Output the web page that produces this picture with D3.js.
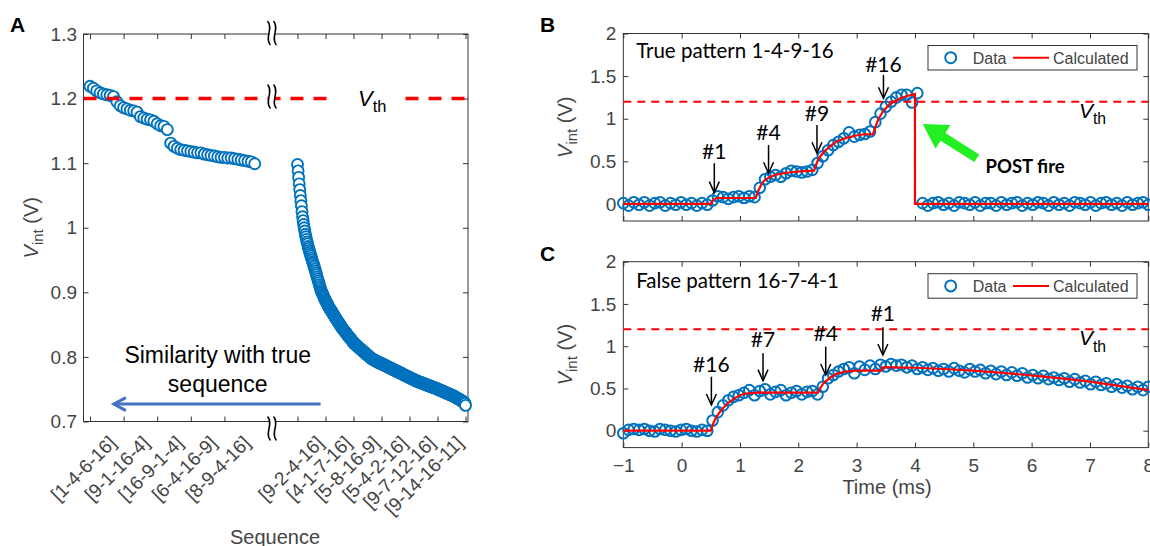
<!DOCTYPE html>
<html>
<head>
<meta charset="utf-8">
<script src="https://cdn.jsdelivr.net/npm/d3@7/dist/d3.min.js"></script>
<style>
  body { margin: 0; background: #fff; }
  svg { display: block; }
</style>
</head>
<body>
<svg id="chart" width="1150" height="546"></svg>
<script>
// ---------- data: panel A (V_int for each tested sequence) ----------
var seqLabelsLeft = ["[1-4-6-16]", "[9-1-16-4]", "[16-9-1-4]", "[6-4-16-9]", "[8-9-4-16]"]
var seqTicksLeft = [0, 10, 20, 30, 40]
var seqLabelsRight = ["[9-2-4-16]", "[4-1-7-16]", "[5-8-16-9]", "[5-4-2-16]", "[9-7-12-16]", "[9-14-16-11]", ""]
var seqTicksRight = [0, 50, 100, 150, 200, 250, 300]
var yTicksA = [0.7, 0.8, 0.9, 1, 1.1, 1.2, 1.3]

var vintLeft = [
  1.219, 1.216, 1.212, 1.209, 1.207, 1.206, 1.205, 1.203, 1.195, 1.189,
  1.186, 1.184, 1.182, 1.181, 1.179, 1.172, 1.170, 1.168, 1.167, 1.165,
  1.161, 1.158, 1.157, 1.152, 1.131, 1.126, 1.123, 1.121, 1.120, 1.119,
  1.118, 1.117, 1.116, 1.116, 1.114, 1.113, 1.112, 1.111, 1.110, 1.109,
  1.109, 1.108, 1.108, 1.107, 1.106, 1.105, 1.104, 1.103, 1.102, 1.099]

// right part of the broken axis, in mV
var vintRightMv = [
  1098, 1088, 1078, 1068, 1059, 1050, 1042, 1034, 1025, 1017,
  1011, 1005, 1000, 995, 990, 986, 982, 978, 975, 971,
  968, 965, 962, 959, 956, 953, 950, 947, 945, 942,
  939, 936, 933, 930, 927, 924, 921, 918, 915, 912,
  909, 906, 903, 901, 899, 897, 895, 893, 891, 889,
  887, 886, 884, 882, 881, 879, 877, 876, 874, 873,
  872, 870, 869, 867, 866, 865, 863, 862, 860, 859,
  858, 856, 855, 854, 852, 851, 850, 848, 847, 846,
  844, 843, 842, 841, 840, 839, 838, 837, 835, 834,
  833, 832, 831, 830, 829, 828, 827, 826, 824, 823,
  822, 821, 820, 820, 819, 818, 817, 817, 816, 815,
  814, 813, 813, 812, 811, 810, 810, 809, 808, 807,
  807, 806, 805, 804, 804, 803, 802, 801, 801, 800,
  799, 798, 798, 797, 797, 796, 796, 795, 795, 794,
  794, 793, 793, 792, 792, 792, 791, 791, 790, 790,
  790, 789, 789, 788, 788, 787, 787, 787, 786, 786,
  785, 785, 784, 784, 784, 783, 783, 782, 782, 781,
  781, 781, 780, 780, 779, 779, 778, 778, 778, 777,
  777, 776, 776, 775, 775, 775, 774, 774, 773, 773,
  772, 772, 772, 771, 771, 770, 770, 769, 769, 769,
  768, 768, 767, 767, 766, 766, 766, 765, 765, 764,
  764, 763, 763, 763, 762, 762, 762, 761, 761, 761,
  760, 760, 760, 759, 759, 759, 758, 758, 758, 757,
  757, 757, 756, 756, 756, 755, 755, 755, 754, 754,
  754, 753, 753, 753, 752, 752, 752, 751, 751, 751,
  750, 750, 750, 749, 749, 748, 748, 748, 747, 747,
  747, 746, 746, 745, 745, 745, 744, 744, 744, 743,
  743, 742, 742, 742, 741, 741, 740, 740, 740, 739,
  739, 738, 738, 737, 737, 736, 736, 735, 735, 734,
  734, 733, 733, 732, 732, 731, 731, 730, 729, 728,
  725]

var vth = 1.2

// ---------- data: panels B and C (time traces) ----------
var tStart = -1, tStep = 0.09     // sampling of the measured trace (ms)
var timeTicks = [-1, 0, 1, 2, 3, 4, 5, 6, 7, 8]
var yTicksBC = [0, 0.5, 1, 1.5, 2]

var vTrue = [
  0.01, -0.02, 0.02, -0.01, 0.02, -0.02, 0.01, 0.02, -0.02, 0.01,
  -0.01, 0.02, -0.01, 0.01, -0.02, 0.01, -0.01, 0.04, 0.09, 0.08,
  0.06, 0.08, 0.09, 0.07, 0.09, 0.08, 0.19, 0.29, 0.32, 0.34,
  0.32, 0.36, 0.39, 0.38, 0.37, 0.38, 0.40, 0.48, 0.56, 0.63,
  0.69, 0.73, 0.77, 0.84, 0.79, 0.81, 0.82, 0.85, 0.96, 1.06,
  1.14, 1.20, 1.25, 1.28, 1.28, 1.19, 1.30,
  0.01, -0.02, 0.01, 0.02, -0.01, 0.01, -0.02, 0.02, 0.01, -0.01,
  0.02, -0.02, 0.01, 0.01, -0.02, 0.02, -0.01, 0.01, 0.02, -0.02,
  0.01, -0.01, 0.02, 0.01, -0.02, 0.02, -0.01, 0.01, -0.02, 0.02,
  0.01, -0.01, 0.02, -0.02, 0.01, 0.02, -0.01, 0.01, -0.02, 0.02,
  -0.01, 0.01, 0.02, -0.01]

var vFalse = [
  -0.03, 0.01, 0.02, 0.01, 0.02, 0.00, -0.01, 0.02, 0.01, 0.00,
  -0.01, 0.01, 0.02, 0.00, -0.01, 0.01, 0.00,
  0.12, 0.22, 0.30, 0.36, 0.40, 0.42, 0.45, 0.48, 0.42, 0.47, 0.49,
  0.43, 0.46, 0.48, 0.42, 0.45, 0.47, 0.43, 0.46, 0.47, 0.43,
  0.52, 0.62, 0.66, 0.70, 0.73, 0.75, 0.68, 0.76, 0.72, 0.77,
  0.73, 0.78, 0.76, 0.79, 0.77, 0.78, 0.75, 0.77, 0.73, 0.75,
  0.72, 0.74, 0.71, 0.73, 0.70, 0.74, 0.71, 0.69, 0.73, 0.70,
  0.72, 0.68, 0.71, 0.67, 0.70, 0.66, 0.69, 0.65, 0.68, 0.63,
  0.66, 0.62, 0.65, 0.61, 0.63, 0.60, 0.62, 0.58, 0.61, 0.57,
  0.59, 0.55, 0.58, 0.54, 0.56, 0.52, 0.55, 0.51, 0.53, 0.49,
  0.52, 0.48, 0.52]

var calcTrueT = [-1, 0.5, 0.55, 0.6, 1.27, 1.31, 1.36, 1.41, 1.5, 1.6, 1.75, 1.9, 2.1, 2.27, 2.3, 2.34, 2.38, 2.45,
  2.55, 2.65, 2.8, 2.97, 3.1, 3.28, 3.32, 3.37, 3.42, 3.47, 3.55, 3.64, 3.75, 3.88, 4.0, 4.0, 8]
var calcTrueV = [0, 0, 0.05, 0.07, 0.07, 0.15, 0.22, 0.27, 0.31, 0.34, 0.36, 0.375, 0.385, 0.39, 0.45, 0.52, 0.56, 0.62,
  0.68, 0.73, 0.77, 0.8, 0.815, 0.82, 0.9, 0.99, 1.05, 1.1, 1.16, 1.2, 1.24, 1.27, 1.29, 0, 0]

var calcFalseT = [-1, 0.5, 0.55, 0.6, 0.7, 0.8, 0.9, 1.0, 1.1, 1.3, 2.34, 2.38, 2.43, 2.48, 2.55, 2.65, 2.8, 3.0,
  3.42, 3.44, 3.6, 4.0, 4.5, 5.0, 5.5, 6.0, 6.5, 7.0, 7.5, 8.0]
var calcFalseV = [0, 0, 0.1, 0.17, 0.26, 0.33, 0.38, 0.42, 0.44, 0.45, 0.45, 0.51, 0.56, 0.59, 0.63, 0.67, 0.70, 0.71,
  0.71, 0.75, 0.75, 0.745, 0.73, 0.71, 0.685, 0.655, 0.62, 0.58, 0.53, 0.48]

// input pulse arrows: time, arrow top, arrow tip, label baseline (V)
var pulsesTrue = [
  {label: "#1", t: 0.56, top: 0.478, tip: 0.133, text: 0.524},
  {label: "#4", t: 1.49, top: 0.692, tip: 0.360, text: 0.751},
  {label: "#9", t: 2.32, top: 0.927, tip: 0.595, text: 0.977},
  {label: "#16", t: 3.46, top: 1.514, tip: 1.240, text: 1.552}]
var pulsesFalse = [
  {label: "#16", t: 0.51, top: 0.639, tip: 0.304, text: 0.698},
  {label: "#7", t: 1.395, top: 0.916, tip: 0.592, text: 0.987},
  {label: "#4", t: 2.47, top: 0.994, tip: 0.659, text: 1.062},
  {label: "#1", t: 3.45, top: 1.224, tip: 0.896, text: 1.302}]

// ---------- styles ----------
var sans = "'Liberation Sans', Arial, Helvetica, sans-serif"
var calibri = "Lato, 'Open Sans', sans-serif"
var axisColor = "#333333"
var tickColor = "#444444"
var blue = "#0072bd"
var red = "#ff0000"
var tickFont = 19

var svg = d3.select("#chart")

function styleAxis(g, size) {
  g.select(".domain").remove()
  g.selectAll(".tick line").attr("stroke", axisColor)
  g.selectAll(".tick text")
    .attr("fill", tickColor)
    .style("font-family", sans)
    .style("font-size", size + "px")
}

function drawBreak(g, cx, cy) {
  g.append("rect")
    .attr("x", cx - 3).attr("y", cy - 9)
    .attr("width", 6).attr("height", 18)
    .attr("fill", "#fff")
  ;[-3, 3].forEach(function(dx) {
    var x0 = cx + dx
    g.append("path")
      .attr("d", `M${x0 - 1.5},${cy - 12} C${x0 + 5},${cy - 5} ${x0 - 5},${cy + 5} ${x0 + 1.5},${cy + 12}`)
      .attr("fill", "none")
      .attr("stroke", "#000")
      .attr("stroke-width", 1.5)
  })
}

function yLabel(g, x, y) {
  var t = g.append("text")
    .attr("transform", `translate(${x},${y}) rotate(-90)`)
    .attr("text-anchor", "middle")
    .attr("fill", tickColor)
    .style("font-family", sans)
    .style("font-size", "20px")
  t.append("tspan").style("font-style", "italic").text("V")
  t.append("tspan").attr("dy", 5).style("font-size", "15px").text("int")
  t.append("tspan").attr("dy", -5).text(" (V)")
}

function vthLabel(g, x, y, size) {
  var t = g.append("text")
    .attr("x", x).attr("y", y)
    .attr("fill", "#000")
    .style("font-family", sans)
    .style("font-size", size + "px")
  t.append("tspan").style("font-style", "italic").text("V")
  t.append("tspan").attr("dy", size * 0.3).style("font-size", (size * 0.75) + "px").text("th")
  return t
}

function panelLetter(x, y, s) {
  svg.append("text")
    .attr("x", x).attr("y", y)
    .style("font-family", sans)
    .style("font-size", "21px")
    .style("font-weight", "bold")
    .text(s)
}

// ---------- panel A ----------
var A = {left: 83.5, right: 468, top: 34, bottom: 421.5}
var breakX = 272
var yA = d3.scaleLinear().domain([0.7, 1.3]).range([A.bottom, A.top])
var xAL = d3.scaleLinear().domain([0, vintLeft.length - 1]).range([90, 254.7])
var xAR = d3.scaleLinear().domain([0, vintRightMv.length - 1]).range([297.5, 465.5])

var gA = svg.append("g")

gA.append("rect")
  .attr("x", A.left).attr("y", A.top)
  .attr("width", A.right - A.left).attr("height", A.bottom - A.top)
  .attr("fill", "none").attr("stroke", axisColor)

gA.append("g").attr("transform", `translate(${A.left},0)`)
  .call(d3.axisLeft(yA).tickValues(yTicksA).tickSize(-5).tickPadding(6.5).tickFormat(String))
  .call(styleAxis, tickFont)
gA.append("g").attr("transform", `translate(${A.right},0)`)
  .call(d3.axisRight(yA).tickValues(yTicksA).tickSize(-5).tickFormat(""))
  .call(styleAxis, tickFont)

function rotateSeqLabels(g) {
  var off = 0.506 * tickFont
  g.selectAll(".tick text")
    .attr("y", null).attr("dy", null)
    .attr("text-anchor", "end")
    .attr("transform", `translate(${17 + off},${13 + off}) rotate(-45)`)
}

;[[xAL, seqTicksLeft, seqLabelsLeft], [xAR, seqTicksRight, seqLabelsRight]].forEach(function(s) {
  gA.append("g").attr("transform", `translate(0,${A.bottom})`)
    .call(d3.axisBottom(s[0]).tickValues(s[1]).tickSize(-5).tickFormat(function(d, i) { return s[2][i] }))
    .call(styleAxis, tickFont)
    .call(rotateSeqLabels)
  gA.append("g").attr("transform", `translate(0,${A.top})`)
    .call(d3.axisTop(s[0]).tickValues(s[1]).tickSize(-5).tickFormat(""))
    .call(styleAxis, tickFont)
})

gA.append("g").selectAll("circle")
  .data(vintLeft)
  .join("circle")
  .attr("cx", function(d, i) { return xAL(i) })
  .attr("cy", function(d) { return yA(d) })
  .attr("r", 5.5)
  .attr("fill", "#fff")
  .attr("stroke", blue)
  .attr("stroke-width", 1.9)

gA.append("g").selectAll("circle")
  .data(vintRightMv)
  .join("circle")
  .attr("cx", function(d, i) { return xAR(i) })
  .attr("cy", function(d) { return yA(d / 1000) })
  .attr("r", 5.5)
  .attr("fill", "#fff")
  .attr("stroke", blue)
  .attr("stroke-width", 1.9)

gA.append("line")
  .attr("x1", A.left).attr("x2", A.right)
  .attr("y1", yA(vth)).attr("y2", yA(vth))
  .attr("stroke", red).attr("stroke-width", 3.5)
  .attr("stroke-dasharray", "13,10")

var vthA = vthLabel(gA, 358, yA(vth) + 7, 22)
var bb = vthA.node().getBBox()
gA.insert("rect", function() { return vthA.node() })
  .attr("x", bb.x - 26).attr("y", bb.y)
  .attr("width", bb.width + 43).attr("height", bb.height)
  .attr("fill", "#fff")

drawBreak(gA, breakX, A.top - 1)
drawBreak(gA, breakX, yA(vth) - 2)
drawBreak(gA, breakX, A.bottom + 7)

// similarity arrow (from right to left), in left-segment index units
var simArrow = {from: 68.6, to: 6.8, v: 0.727}
var ay = yA(simArrow.v), ax0 = xAL(simArrow.from), ax1 = xAL(simArrow.to)
gA.append("line")
  .attr("x1", ax0).attr("x2", ax1 + 2).attr("y1", ay).attr("y2", ay)
  .attr("stroke", "#4472c4").attr("stroke-width", 3)
gA.append("path")
  .attr("d", `M${ax1 + 13},${ay - 6.5} L${ax1 + 1},${ay} L${ax1 + 13},${ay + 6.5}`)
  .attr("fill", "none").attr("stroke", "#4472c4").attr("stroke-width", 3)

var simText = gA.append("text")
  .attr("text-anchor", "middle")
  .style("font-family", sans).style("font-size", "23px")
simText.append("tspan").attr("x", xAL(38)).attr("y", yA(0.790)).text("Similarity with true")
simText.append("tspan").attr("x", xAL(38)).attr("y", yA(0.745)).text("sequence")

yLabel(gA, 38, (A.top + A.bottom) / 2)
gA.append("text")
  .attr("x", 275).attr("y", 544)
  .attr("text-anchor", "middle")
  .attr("fill", tickColor)
  .style("font-family", sans).style("font-size", "20px")
  .text("Sequence")

panelLetter(10, 32, "A")

// ---------- panels B and C ----------
var xT = d3.scaleLinear().domain([-1, 8]).range([623.3, 1148.3])

function drawTimePanel(p) {
  var g = svg.append("g")
  var y = d3.scaleLinear().domain([-0.2, 2]).range([p.bottom, p.top])
  var left = xT.range()[0], right = xT.range()[1]

  g.append("rect")
    .attr("x", left).attr("y", p.top)
    .attr("width", right - left).attr("height", p.bottom - p.top)
    .attr("fill", "none").attr("stroke", axisColor)

  g.append("g").attr("transform", `translate(${left},0)`)
    .call(d3.axisLeft(y).tickValues(yTicksBC).tickSize(-5).tickPadding(7).tickFormat(String))
    .call(styleAxis, tickFont)
  g.append("g").attr("transform", `translate(${right},0)`)
    .call(d3.axisRight(y).tickValues(yTicksBC).tickSize(-5).tickFormat(""))
    .call(styleAxis, tickFont)
  g.append("g").attr("transform", `translate(0,${p.top})`)
    .call(d3.axisTop(xT).tickValues(timeTicks).tickSize(-5).tickFormat(""))
    .call(styleAxis, tickFont)
  g.append("g").attr("transform", `translate(0,${p.bottom})`)
    .call(d3.axisBottom(xT).tickValues(timeTicks).tickSize(-5).tickPadding(11)
      .tickFormat(p.showTime ? function(d) { return d < 0 ? "\u2212" + (-d) : String(d) } : ""))
    .call(styleAxis, tickFont)

  g.append("g").selectAll("circle")
    .data(p.values)
    .join("circle")
    .attr("cx", function(d, i) { return xT(tStart + i * tStep) })
    .attr("cy", function(d) { return y(d) })
    .attr("r", 5.3)
    .attr("fill", "none")
    .attr("stroke", blue)
    .attr("stroke-width", 2)

  g.append("line")
    .attr("x1", left).attr("x2", right)
    .attr("y1", y(vth)).attr("y2", y(vth))
    .attr("stroke", red).attr("stroke-width", 2)
    .attr("stroke-dasharray", "8,6")

  var line = d3.line()
    .x(function(d) { return xT(d[0]) })
    .y(function(d) { return y(d[1]) })
  g.append("path")
    .datum(d3.zip(p.calcT, p.calcV))
    .attr("d", line)
    .attr("fill", "none")
    .attr("stroke", red)
    .attr("stroke-width", 2.2)

  // pulse arrows
  p.pulses.forEach(function(a) {
    var px = xT(a.t)
    g.append("line")
      .attr("x1", px).attr("x2", px)
      .attr("y1", y(a.top)).attr("y2", y(a.tip))
      .attr("stroke", "#000").attr("stroke-width", 1.5)
    g.append("path")
      .attr("d", `M${px - 5},${y(a.tip) - 11} L${px},${y(a.tip)} L${px + 5},${y(a.tip) - 11}`)
      .attr("fill", "none").attr("stroke", "#000").attr("stroke-width", 1.5)
    g.append("text")
      .attr("x", px).attr("y", y(a.text))
      .attr("text-anchor", "middle")
      .style("font-family", calibri).style("font-size", "21px")
      .text(a.label)
  })

  g.append("text")
    .attr("x", xT(-0.78)).attr("y", y(p.titleV))
    .style("font-family", calibri).style("font-size", "20.5px")
    .text(p.title)

  vthLabel(g, xT(6.81), y(1.01), 21)

  // legend
  var lx = 928, ly = p.top + 12
  g.append("rect")
    .attr("x", lx).attr("y", ly).attr("width", 209).attr("height", 24.5)
    .attr("fill", "#fff").attr("stroke", axisColor)
  g.append("circle")
    .attr("cx", lx + 22.7).attr("cy", ly + 12.2).attr("r", 5.5)
    .attr("fill", "none").attr("stroke", blue).attr("stroke-width", 2)
  g.append("line")
    .attr("x1", lx + 85).attr("x2", lx + 121)
    .attr("y1", ly + 12.2).attr("y2", ly + 12.2)
    .attr("stroke", red).attr("stroke-width", 2)
  g.append("text").attr("x", lx + 44.7).attr("y", ly + 18)
    .attr("fill", tickColor).style("font-family", sans).style("font-size", "16px").text("Data")
  g.append("text").attr("x", lx + 125).attr("y", ly + 18)
    .attr("fill", tickColor).style("font-family", sans).style("font-size", "16px").text("Calculated")

  yLabel(g, 572, (p.top + p.bottom) / 2)
  return {g: g, y: y}
}

var panelB = drawTimePanel({
  top: 33.5, bottom: 221, values: vTrue, calcT: calcTrueT, calcV: calcTrueV,
  pulses: pulsesTrue, title: "True pattern 1-4-9-16", titleV: 1.71, showTime: false})

var panelC = drawTimePanel({
  top: 261.7, bottom: 447.6, values: vFalse, calcT: calcFalseT, calcV: calcFalseV,
  pulses: pulsesFalse, title: "False pattern 16-7-4-1", titleV: 1.691, showTime: true})

// post-synaptic firing marker in B
var fireTail = [5.06, 0.536], fireTip = [4.133, 0.938]
var T = [xT(fireTail[0]), panelB.y(fireTail[1])], H = [xT(fireTip[0]), panelB.y(fireTip[1])]
var len = Math.hypot(H[0] - T[0], H[1] - T[1])
var u = [(H[0] - T[0]) / len, (H[1] - T[1]) / len], n = [-u[1], u[0]]
var headLen = 24, headHalf = 14, shaftHalf = 4.5
var B0 = [H[0] - u[0] * headLen, H[1] - u[1] * headLen]
var pts = [
  [T[0] + n[0] * shaftHalf, T[1] + n[1] * shaftHalf],
  [B0[0] + n[0] * shaftHalf, B0[1] + n[1] * shaftHalf],
  [B0[0] + n[0] * headHalf, B0[1] + n[1] * headHalf],
  H,
  [B0[0] - n[0] * headHalf, B0[1] - n[1] * headHalf],
  [B0[0] - n[0] * shaftHalf, B0[1] - n[1] * shaftHalf],
  [T[0] - n[0] * shaftHalf, T[1] - n[1] * shaftHalf]]
panelB.g.append("polygon")
  .attr("points", pts.map(function(p) { return p.join(",") }).join(" "))
  .attr("fill", "#22f022")

panelB.g.append("text")
  .attr("x", xT(5.21)).attr("y", panelB.y(0.36))
  .style("font-family", calibri).style("font-size", "18.5px").style("font-weight", "bold")
  .text("POST fire")

panelC.g.append("text")
  .attr("x", 887).attr("y", 494)
  .attr("text-anchor", "middle")
  .attr("fill", tickColor)
  .style("font-family", sans).style("font-size", "20px")
  .text("Time (ms)")

panelLetter(540, 32, "B")
panelLetter(540, 261, "C")
</script>
</body>
</html>
